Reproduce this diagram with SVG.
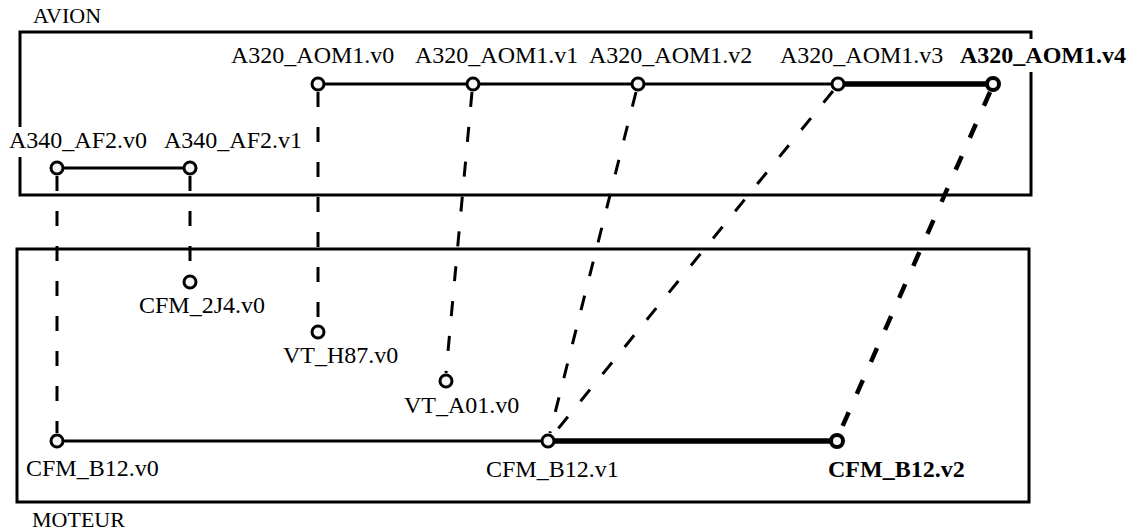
<svg xmlns="http://www.w3.org/2000/svg" width="1136" height="532" viewBox="0 0 1136 532">
<style>
text{font-family:"Liberation Serif","Times New Roman",serif;font-size:24px;fill:#000}
.title{font-size:22px}
.b{font-weight:bold}
.box{fill:none;stroke:#000;stroke-width:3}
.lbg{fill:#fff}
.solid{stroke:#000;stroke-width:3;fill:none}
.thick{stroke:#000;stroke-width:5.5;fill:none}
.dash{stroke:#000;stroke-width:3;stroke-dasharray:15 20;fill:none}
.dashb{stroke:#000;stroke-width:4.5;stroke-dasharray:15 20;fill:none}
.node{fill:#f5f5f5;stroke:#000;stroke-width:3}
.nodeb{fill:#f5f5f5;stroke:#000;stroke-width:4}
</style>
<rect width="1136" height="532" fill="#fff"/>
<g id="avion">
<rect class="box" x="20" y="32" width="1011" height="163"/>
<text class="title" x="33" y="23">AVION</text>
</g>
<g id="moteur">
<rect class="box" x="17" y="249" width="1012" height="253"/>
<text class="title" x="32" y="527">MOTEUR</text>
</g>
<g id="connectors">
<line class="solid" x1="318" y1="84" x2="838" y2="84"/>
<line class="thick" x1="838" y1="84" x2="993" y2="84"/>
<line class="solid" x1="57" y1="168" x2="190" y2="168"/>
<line class="solid" x1="57" y1="441" x2="548" y2="441"/>
<line class="thick" x1="548" y1="441" x2="837" y2="441"/>
<line class="dash" x1="57" y1="176" x2="57" y2="433"/>
<line class="dash" x1="190" y1="176" x2="190" y2="274"/>
<line class="dash" x1="318" y1="92" x2="318" y2="324"/>
<line class="dash" x1="472" y1="92" x2="446" y2="373"/>
<line class="dash" x1="636" y1="92" x2="550" y2="433"/>
<line class="dash" x1="833" y1="91" x2="553" y2="435"/>
<line class="dashb" x1="990" y1="92" x2="840" y2="432"/>
</g>
<g id="n-a320-v0"><circle class="node" cx="318" cy="84" r="6"/><rect class="lbg" x="229" y="41" width="166" height="30"/><text x="231" y="63">A320_AOM1.v0</text></g>
<g id="n-a320-v1"><circle class="node" cx="473" cy="84" r="6"/><rect class="lbg" x="413" y="41" width="166" height="30"/><text x="415" y="63">A320_AOM1.v1</text></g>
<g id="n-a320-v2"><circle class="node" cx="638" cy="84" r="6"/><rect class="lbg" x="587" y="41" width="166" height="30"/><text x="589" y="63">A320_AOM1.v2</text></g>
<g id="n-a320-v3"><circle class="node" cx="838" cy="84" r="6"/><rect class="lbg" x="778" y="41" width="166" height="30"/><text x="780" y="63">A320_AOM1.v3</text></g>
<g id="n-a320-v4"><circle class="nodeb" cx="993" cy="84" r="6"/><rect class="lbg" x="958" y="39" width="170" height="33"/><text class="b" x="960" y="63">A320_AOM1.v4</text></g>
<g id="n-a340-v0"><circle class="node" cx="57" cy="168" r="6"/><rect class="lbg" x="7" y="127" width="142" height="30"/><text x="9" y="148">A340_AF2.v0</text></g>
<g id="n-a340-v1"><circle class="node" cx="190" cy="168" r="6"/><rect class="lbg" x="162" y="127" width="138" height="30"/><text x="164" y="148">A340_AF2.v1</text></g>
<g id="n-cfm2j4"><circle class="node" cx="190" cy="282" r="6"/><text x="139" y="313">CFM_2J4.v0</text></g>
<g id="n-vth87"><circle class="node" cx="318" cy="332" r="6"/><text x="283" y="363">VT_H87.v0</text></g>
<g id="n-vta01"><circle class="node" cx="446" cy="381" r="6"/><text x="404" y="413">VT_A01.v0</text></g>
<g id="n-b12-v0"><circle class="node" cx="57" cy="441" r="6"/><text x="26" y="476">CFM_B12.v0</text></g>
<g id="n-b12-v1"><circle class="node" cx="548" cy="441" r="6"/><text x="486" y="477">CFM_B12.v1</text></g>
<g id="n-b12-v2"><circle class="nodeb" cx="837" cy="441" r="6"/><text class="b" x="828" y="477">CFM_B12.v2</text></g>
</svg>
